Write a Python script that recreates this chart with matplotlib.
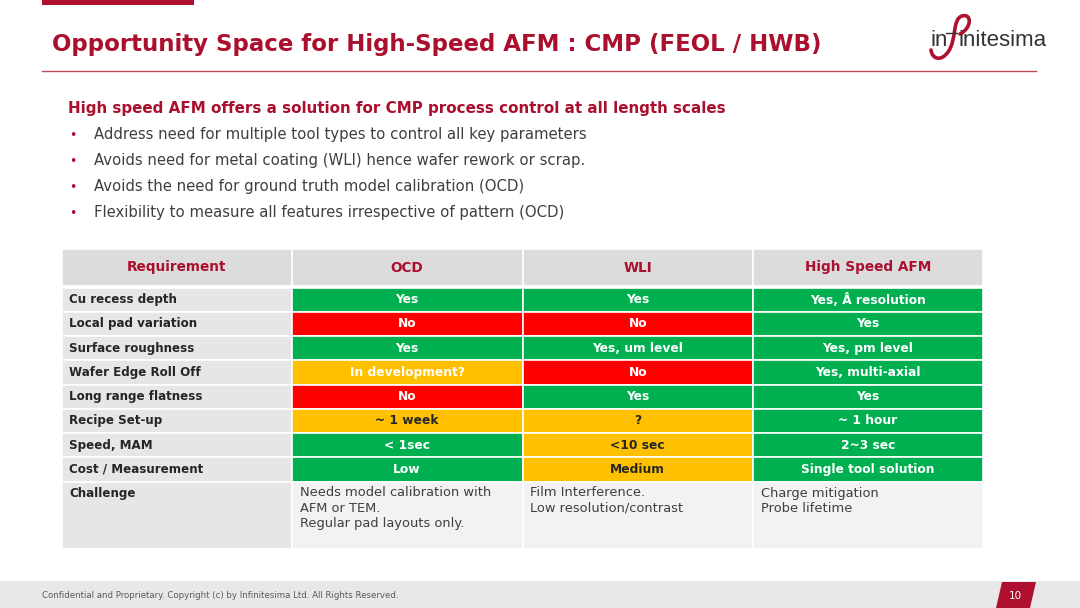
import matplotlib
matplotlib.use('Agg')
import matplotlib.pyplot as plt
from matplotlib.patches import Rectangle, Polygon, PathPatch
from matplotlib.path import Path

# ---------------------------------- slide content

title = "Opportunity Space for High-Speed AFM : CMP (FEOL / HWB)"
subtitle = "High speed AFM offers a solution for CMP process control at all length scales"
bullets = [
    "Address need for multiple tool types to control all key parameters",
    "Avoids need for metal coating (WLI) hence wafer rework or scrap.",
    "Avoids the need for ground truth model calibration (OCD)",
    "Flexibility to measure all features irrespective of pattern (OCD)",
]

headers = ["Requirement", "OCD", "WLI", "High Speed AFM"]
requirements = ["Cu recess depth", "Local pad variation", "Surface roughness",
                "Wafer Edge Roll Off", "Long range flatness", "Recipe Set-up",
                "Speed, MAM", "Cost / Measurement"]
ocd = ["Yes", "No", "Yes", "In development?", "No", "~ 1 week", "< 1sec", "Low"]
ocd_status = ["g", "r", "g", "y", "r", "y", "g", "g"]
wli = ["Yes", "No", "Yes, um level", "No", "Yes", "?", "<10 sec", "Medium"]
wli_status = ["g", "r", "g", "r", "g", "y", "y", "y"]
afm = ["Yes, Å resolution", "Yes", "Yes, pm level", "Yes, multi-axial", "Yes",
       "~ 1 hour", "2~3 sec", "Single tool solution"]
afm_status = ["g", "g", "g", "g", "g", "g", "g", "g"]
challenge = ["Challenge",
             "Needs model calibration with\nAFM or TEM.\nRegular pad layouts only.",
             "Film Interference.\nLow resolution/contrast",
             "Charge mitigation\nProbe lifetime"]
white_on_yellow = {"In development?"}

footer = "Confidential and Proprietary. Copyright (c) by Infinitesima Ltd. All Rights Reserved."
page = "10"

# ---------------------------------- styles

DARKRED = '#AA0F2E'
GREY_TXT = '#3F3F3F'
fills = {'g': '#00B050', 'r': '#FF0000', 'y': '#FFC000'}
FONT = 'DejaVu Sans'

fig = plt.figure(figsize=(10.8, 6.08), dpi=100)
ax = fig.add_axes([0, 0, 1, 1])
ax.set_xlim(0, 1080)
ax.set_ylim(608, 0)
ax.axis('off')

# top accent bar, title and rule
ax.add_patch(Rectangle((42, 0), 152, 5, color='#AE1030', lw=0))
ax.text(52, 44, title, fontsize=16.5, fontweight='bold', color=DARKRED,
        va='center', ha='left', family=FONT)
ax.plot([42, 1036], [71, 71], color='#C0485A', lw=1.0)

# logo
ax.text(931, 41, "in", fontsize=16, color='#333333', va='center', ha='left',
        family='Liberation Sans')
ax.text(959, 41, "initesima", fontsize=16, color='#333333', va='center',
        ha='left', family='Liberation Sans')
ax.plot([946, 957], [33, 33], color='#333333', lw=1.0)
swirl = Path([(960, 34),
              (972, 28), (972, 13), (962, 16),
              (952, 19), (957, 40), (948, 52),
              (941, 62), (932, 59), (931, 50)],
             [Path.MOVETO] + [Path.CURVE4] * 9)
ax.add_patch(PathPatch(swirl, fill=False, ec='#B01030', lw=2.6,
                       capstyle='round'))

# subtitle and bullets
ax.text(68, 108, subtitle, fontsize=10.9, fontweight='bold', color=DARKRED,
        va='center', ha='left', family=FONT)
for i, b in enumerate(bullets):
    y = 135 + 26 * i
    ax.text(69, y, "•", fontsize=9, color=DARKRED, va='center', ha='left')
    ax.text(94, y, b, fontsize=10.7, color=GREY_TXT, va='center', ha='left',
            family=FONT)

# ---------------------------------- table

col_x = [62, 291.5, 522.5, 753, 983]
head_top, head_bot = 249, 286
row_top, row_h = 287.5, 24.25
chal_bot = 549

for j, h in enumerate(headers):
    ax.add_patch(Rectangle((col_x[j], head_top), col_x[j + 1] - col_x[j],
                           head_bot - head_top, fc='#DCDCDC', ec='white',
                           lw=1.2))
    ax.text((col_x[j] + col_x[j + 1]) / 2, (head_top + head_bot) / 2, h,
            fontsize=9.8, fontweight='bold', color=DARKRED, ha='center',
            va='center', family=FONT)

columns = [(ocd, ocd_status), (wli, wli_status), (afm, afm_status)]
for i, req in enumerate(requirements):
    y0 = row_top + row_h * i
    ax.add_patch(Rectangle((col_x[0], y0), col_x[1] - col_x[0], row_h,
                           fc='#E6E6E6', ec='white', lw=1.2))
    ax.text(col_x[0] + 7, y0 + row_h / 2, req, fontsize=8.6,
            fontweight='bold', color='#262626', ha='left', va='center',
            family=FONT)
    for j, (vals, stat) in enumerate(columns):
        x0, x1 = col_x[j + 1], col_x[j + 2]
        s = stat[i]
        ax.add_patch(Rectangle((x0, y0), x1 - x0, row_h, fc=fills[s],
                               ec='white', lw=1.2))
        tc = 'white'
        if s == 'y' and vals[i] not in white_on_yellow:
            tc = '#262626'
        ax.text((x0 + x1) / 2, y0 + row_h / 2, vals[i], fontsize=8.8,
                fontweight='bold', color=tc, ha='center', va='center',
                family=FONT)

chal_top = row_top + row_h * len(requirements)
for j, txt in enumerate(challenge):
    fc = '#E6E6E6' if j == 0 else '#F2F2F2'
    ax.add_patch(Rectangle((col_x[j], chal_top), col_x[j + 1] - col_x[j],
                           chal_bot - chal_top, fc=fc, ec='white', lw=1.2))
    if j == 0:
        ax.text(col_x[j] + 7, chal_top + 12, txt, fontsize=8.6,
                fontweight='bold', color='#262626', ha='left', va='center',
                family=FONT)
    else:
        ax.text(col_x[j] + 8, chal_top + 5, txt, fontsize=9.4,
                color=GREY_TXT, ha='left', va='top', linespacing=1.2,
                family=FONT)

# ---------------------------------- footer

ax.add_patch(Rectangle((0, 581), 1080, 27, fc='#E8E8E8', lw=0))
ax.text(42, 595, footer, fontsize=6.25, color='#595959', ha='left',
        va='center', family=FONT)
ax.add_patch(Polygon([(1002, 582), (1036, 582), (1030, 608), (996, 608)],
                     closed=True, fc='#B01030', lw=0))
ax.text(1015, 596, page, fontsize=7.5, color='white', ha='center',
        va='center', family=FONT)

fig.savefig('out.png', dpi=100)
